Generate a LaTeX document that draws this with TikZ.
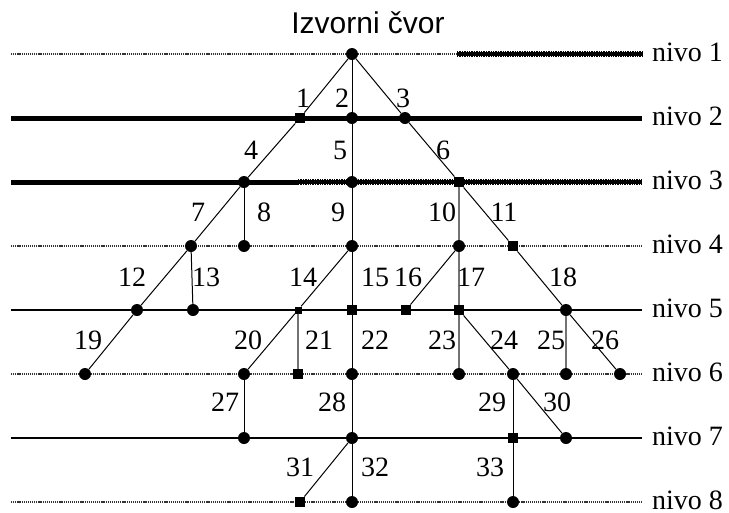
\documentclass[tikz,border=0pt]{standalone}
\usepackage{fontspec}
\setmainfont{Liberation Serif}
\newfontfamily\titlefont{Liberation Sans}
\usetikzlibrary{positioning}

\tikzset{
  vert/.style={circle, fill=black, inner sep=0pt, minimum size=12pt},
  vertsq/.style={rectangle, fill=black, inner sep=0pt, minimum size=10.5pt},
  edge/.style={line width=1pt},
  grayedge/.style={line width=1.2pt, draw=black!55},
  lvlthin/.style={line width=1.2pt},
  lvlthick/.style={line width=5pt},
  lvldot/.style={line width=2.6pt, draw=black!80, dash pattern=on 1.2pt off 0.9pt},
  lvlhatchbase/.style={line width=3.2pt},
  lvlhatch/.style={line width=5.5pt, dash pattern=on 1.4pt off 1pt},
  lvllabel/.style={anchor=west, inner sep=0pt},
  num/.style={inner sep=0pt},
}

\begin{document}
\begin{tikzpicture}[x=1pt, y=-1pt, font=\rmfamily\fontsize{28}{32}\selectfont]
  \useasboundingbox (0,0) rectangle (729,512);

  % naslov
  \node[font=\titlefont\fontsize{30}{34}\selectfont] (title) at (368,23) {Izvorni čvor};

  % oznake nivoa
  \foreach \k/\y in {1/54, 2/118, 3/182, 4/246, 5/310, 6/374, 7/438, 8/502} {
    \node[lvllabel] (l\k) at (652,\y-2) {nivo \k};
    \coordinate (s\k) at (11,\y);
  }
  \coordinate (m1) at (457,54);
  \coordinate (m3) at (298,182);

  % linije nivoa
  \draw[lvldot] (s1) -- (m1);
  \draw[lvlhatchbase, shorten >=10pt] (m1) -- (l1.west |- m1);
  \draw[lvlhatch, shorten >=10pt] (m1) -- (l1.west |- m1);
  \draw[lvlthick, shorten >=10pt] (s2) -- (l2.west |- s2);
  \draw[lvlthick] (s3) -- (m3);
  \draw[lvlhatchbase, shorten >=10pt] (m3) -- (l3.west |- m3);
  \draw[lvlhatch, shorten >=10pt] (m3) -- (l3.west |- m3);
  \draw[lvldot, shorten >=10pt] (s4) -- (l4.west |- s4);
  \draw[lvlthin, shorten >=10pt] (s5) -- (l5.west |- s5);
  \draw[lvldot, shorten >=10pt] (s6) -- (l6.west |- s6);
  \draw[lvlthin, shorten >=10pt] (s7) -- (l7.west |- s7);
  \draw[lvldot, shorten >=10pt] (s8) -- (l8.west |- s8);

  % cvorovi
  \node[vert] (a) at (352,54) {};

  \node[vertsq] (b1) at (300,118) {};
  \node[vert] (b2) at (352,118) {};
  \node[vert] (b3) at (405,118) {};

  \node[vert] (c1) at (244,182) {};
  \node[vert] (c2) at (352,182) {};
  \node[vertsq] (c3) at (459,182) {};

  \node[vert] (d1) at (191,246) {};
  \node[vert] (d2) at (244,246) {};
  \node[vert] (d3) at (352,246) {};
  \node[vert] (d4) at (459,246) {};
  \node[vertsq] (d5) at (513,246) {};

  \node[vert] (e1) at (137,310) {};
  \node[vert] (e2) at (193,310) {};
  \node[vertsq, minimum size=7pt] (e3) at (298,310) {};
  \node[vertsq] (e4) at (352,310) {};
  \node[vertsq] (e5) at (406,310) {};
  \node[vertsq] (e6) at (459,310) {};
  \node[vert] (e7) at (566,310) {};

  \node[vert] (f1) at (85,374) {};
  \node[vert] (f2) at (244,374) {};
  \node[vertsq] (f3) at (298,374) {};
  \node[vert] (f4) at (352,374) {};
  \node[vert] (f5) at (459,374) {};
  \node[vert] (f6) at (513,374) {};
  \node[vert] (f7) at (566,374) {};
  \node[vert] (f8) at (620,374) {};

  \node[vert] (g1) at (244,438) {};
  \node[vert] (g2) at (352,438) {};
  \node[vertsq] (g3) at (513,438) {};
  \node[vert] (g4) at (566,438) {};

  \node[vertsq] (h1) at (300,502) {};
  \node[vert] (h2) at (352,502) {};
  \node[vert] (h3) at (513,502) {};

  % grane
  \foreach \u/\v in {a/b1, a/b2, a/b3, b1/c1, b2/c2, b3/c3, c1/d1, c1/d2,
                     c2/d3, c3/d5, d1/e1, d1/e2, d3/e3, d3/e4, d4/e5, d5/e7,
                     e1/f1, e3/f2, e4/f4, e6/f6, e7/f8, f2/g1, f4/g2, f6/g3,
                     f6/g4, g2/h1, g2/h2, g3/h3}
    \draw[edge] (\u) -- (\v);
  \foreach \u/\v in {c3/d4, d4/e6, e3/f3, e6/f5, e7/f7}
    \draw[grayedge] (\u) -- (\v);

  % brojevi grana
  \foreach \n/\x/\y in {1/303/98, 2/342/98, 3/403/98,
                        4/251/150, 5/340/150, 6/443/150,
                        7/198/212, 8/264/212, 9/338/212, 10/442/212, 11/504/212,
                        12/132/277, 13/206/277, 14/303/277, 15/375/277, 16/408/277, 17/471/277, 18/563/277,
                        19/88/340, 20/248/340, 21/319/340, 22/375/340, 23/442/340, 24/504/340, 25/551/340, 26/605/340,
                        27/225/402, 28/332/402, 29/492/402, 30/557/402,
                        31/300/467, 32/375/467, 33/490/467}
    \node[num] (t\n) at (\x,\y) {\n};
\end{tikzpicture}
\end{document}
